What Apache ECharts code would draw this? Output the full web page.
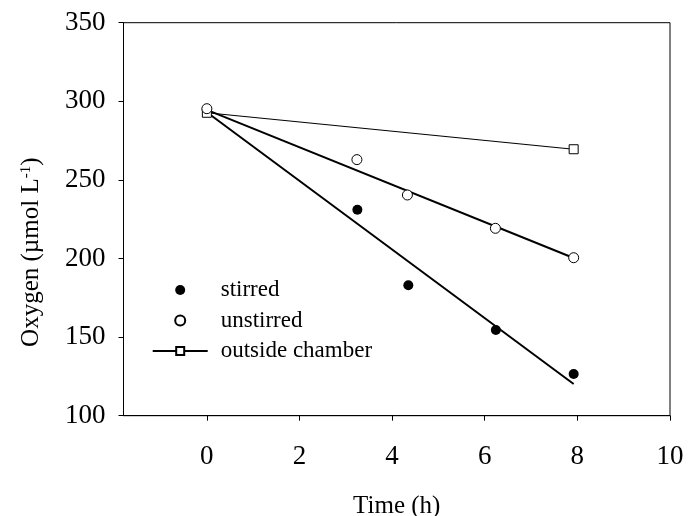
<!DOCTYPE html>
<html>
<head>
<meta charset="utf-8">
<script src="https://cdn.jsdelivr.net/npm/echarts@6/dist/echarts.min.js"></script>
<style>html,body{margin:0;padding:0;background:#fff}#c{width:688px;height:516px}</style>
</head>
<body>
<div id="c"></div>
<script>
// Data
var xTicks = [0, 2, 4, 6, 8, 10];
var yTicks = [100, 150, 200, 250, 300, 350];

var timeStirred = [3.25, 4.35, 6.24, 7.92];
var o2Stirred = [231, 183, 154.5, 126.5];

var timeUnstirred = [0, 3.24, 4.33, 6.23, 7.92];
var o2Unstirred = [295.3, 262.9, 240.4, 219.2, 200.5];

var timeOutside = [0, 7.92];
var o2Outside = [292.7, 269.5];

var fitTime = [0, 7.92];
var fitStirred = [293, 120.2];
var fitUnstirred = [294.5, 200.3];

function pairs(xs, ys) { return xs.map(function (x, i) { return [x, ys[i]]; }); }

var FONT = 'Liberation Serif';
var chart = echarts.init(document.getElementById('c'), null, { renderer: 'canvas' });
chart.setOption({
  animation: false,
  backgroundColor: '#fff',
  textStyle: { fontFamily: FONT, color: '#000' },
  grid: { left: 123.5, right: 18, top: 22.7, bottom: 100.3, show: true, borderColor: '#000', borderWidth: 1,
    containLabel: false, outerBoundsMode: 'none' },
  legend: {
    orient: 'vertical', left: 146.7, top: 273.5,
    itemWidth: 55, itemHeight: 10, itemGap: 7.5,
    data: ['stirred', 'unstirred', 'outside chamber'],
    textStyle: { fontFamily: FONT, fontSize: 23, color: '#000', padding: [0, 0, 0, 8] }
  },
  xAxis: {
    type: 'value', min: -1.8, max: 10,
    name: 'Time (h)', nameLocation: 'middle', nameGap: 78,
    nameTextStyle: { fontFamily: FONT, fontSize: 25, color: '#000' },
    axisLine: { onZero: false, lineStyle: { color: '#000', width: 1 } },
    axisTick: { show: true, length: 5, customValues: xTicks, lineStyle: { color: '#000' } },
    axisLabel: { customValues: xTicks, fontFamily: FONT, fontSize: 27, color: '#000', margin: 27.5 },
    splitLine: { show: false }
  },
  yAxis: {
    type: 'value', min: 100, max: 350, interval: 50,
    name: 'Oxygen (µmol L{sup|-1})', nameLocation: 'middle', nameGap: 80,
    nameTextStyle: { fontFamily: FONT, fontSize: 25, color: '#000', padding: [0, 66, 0, 0],
      rich: { sup: { fontFamily: FONT, fontSize: 15, verticalAlign: 'top', padding: [0, 0, 9, 0] } } },
    axisLine: { show: true, onZero: false, lineStyle: { color: '#000', width: 1 } },
    axisTick: { show: true, length: 5, lineStyle: { color: '#000' } },
    axisLabel: { fontFamily: FONT, fontSize: 27, color: '#000', margin: 18 },
    splitLine: { show: false }
  },
  series: [
    { name: 'fit stirred', type: 'line', data: pairs(fitTime, fitStirred), symbol: 'none', silent: true,
      lineStyle: { color: '#000', width: 2 }, z: 1 },
    { name: 'fit unstirred', type: 'line', data: pairs(fitTime, fitUnstirred), symbol: 'none', silent: true,
      lineStyle: { color: '#000', width: 2 }, z: 1 },
    { name: 'outside chamber', type: 'line', data: pairs(timeOutside, o2Outside),
      symbol: 'rect', symbolSize: 9, showAllSymbol: true,
      lineStyle: { color: '#000', width: 1.2 },
      itemStyle: { color: '#fff', borderColor: '#000', borderWidth: 1 }, z: 2 },
    { name: 'stirred', type: 'scatter', data: pairs(timeStirred, o2Stirred), symbol: 'circle', symbolSize: 10,
      itemStyle: { color: '#000', borderColor: '#000', borderWidth: 0, opacity: 1 }, z: 3 },
    { name: 'unstirred', type: 'scatter', data: pairs(timeUnstirred, o2Unstirred), symbol: 'circle', symbolSize: 10,
      itemStyle: { color: '#fff', borderColor: '#000', borderWidth: 1, opacity: 1 }, z: 3 }
  ]
});
</script>
</body>
</html>
